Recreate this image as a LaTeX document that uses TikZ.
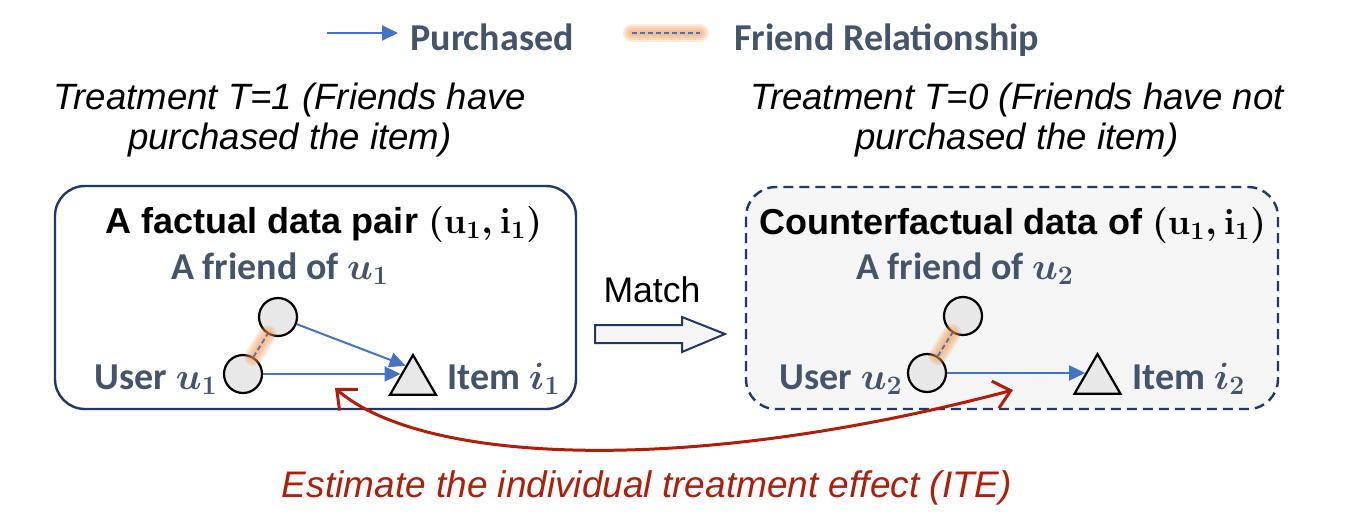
\RequirePackage{fix-cm}
\documentclass[tikz,border=0pt]{standalone}
\usepackage{fontspec}
\usepackage{amsmath}
\usepackage{tikz}
\usetikzlibrary{arrows.meta,shapes.geometric,calc}
\newfontfamily\arialfont{Liberation Sans}
\newfontfamily\calibrifont{Carlito}
\definecolor{slate}{HTML}{44546A}
\definecolor{buy}{HTML}{4472C4}
\definecolor{navy}{HTML}{1F3864}
\definecolor{iteRed}{HTML}{B01E0A}
\definecolor{glow}{HTML}{F79646}
\definecolor{nodeGray}{HTML}{E8E8E8}
\definecolor{boxGray}{HTML}{F5F5F5}

\begin{document}
\begin{tikzpicture}[x=0.5pt,y=-0.5pt,
    lab/.style={font=\calibrifont\bfseries\fontsize{19}{22}\selectfont,text=slate,inner sep=0pt},
    ttl/.style={font=\arialfont\bfseries\fontsize{18}{21}\selectfont,inner sep=0pt},
    treat/.style={font=\arialfont\itshape\fontsize{18.3}{20}\selectfont,align=center,inner sep=0pt},
    usr/.style={circle,draw=black,line width=1.1pt,fill=nodeGray,minimum size=19pt,inner sep=0pt},
    itm/.style={regular polygon,regular polygon sides=3,draw=black,line width=1.1pt,fill=nodeGray,minimum size=26.5pt,inner sep=0pt},
    buyarrow/.style={buy,line width=1pt,-{Triangle[length=8pt,width=7.5pt]}},
    friend/.style={buy,line width=0.9pt,dash pattern=on 2.5pt off 1.5pt},
    halo/.style={glow,line cap=round,line width=#1,opacity=0.2},
]
    \path[fill=white,use as bounding box] (0,0) rectangle (1350,525);

    % legend
    \coordinate (lgbuyS) at (327,33);
    \coordinate (lgbuyE) at (398,33);
    \draw[buyarrow] (lgbuyS) -- (lgbuyE);
    \node[lab,anchor=base west] (lgbuy) at (410,50) {Purchased};
    \coordinate (lgfrS) at (632,33);
    \coordinate (lgfrE) at (700,33);
    \foreach \w in {9pt,7pt,5pt,3pt} \draw[halo=\w] (lgfrS) -- (lgfrE);
    \draw[friend] (lgfrS) -- (lgfrE);
    \node[lab,anchor=base west] (lgfr) at (734,50) {Friend Relationship};

    % treatment captions
    \node[treat] (trt1) at (290,120) {Treatment T=1 (Friends have\\purchased the item)};
    \node[treat] (trt0) at (1017,120) {Treatment T=0 (Friends have not\\purchased the item)};

    % the two boxes
    \draw[navy,line width=1.2pt,rounded corners=15pt] (55,186) rectangle (576,409);
    \draw[navy,line width=1.2pt,dash pattern=on 5pt off 3pt,fill=boxGray,rounded corners=15pt] (746,187) rectangle (1278,409);
    \node[ttl,anchor=base] (fact) at (324,233) {A factual data pair {\boldmath$(\mathbf{u}_1,\mathbf{i}_1)$}};
    \node[ttl,anchor=base] (cfact) at (1013,234) {Counterfactual data of {\boldmath$(\mathbf{u}_1,\mathbf{i}_1)$}};

    % factual pair
    \node[usr] (f1) at (278,317) {};
    \node[usr] (u1) at (243,374) {};
    \node[itm] (t1) at (413,381.5) {};
    \node[lab,anchor=base] (f1lab) at (280,279) {A friend of {\boldmath$u_1$}};
    \node[lab,anchor=base east] (u1lab) at (218,389) {User {\boldmath$u_1$}};
    \node[lab,anchor=base west] (t1lab) at (447,389) {Item {\boldmath$i_1$}};
    \coordinate (t1up) at ($(t1.corner 1)!0.3!(t1.corner 2)$);
    \coordinate (t1w) at ($(t1.corner 1)!0.5!(t1.corner 2)$);
    \draw[buyarrow] (f1) -- (t1up);
    \draw[buyarrow] (u1.east) -- (u1.east -| t1w);
    \foreach \w in {9pt,7pt,5pt,3pt} \draw[halo=\w] (u1) -- (f1);
    \draw[friend] (u1) -- (f1);

    % counterfactual pair
    \node[usr] (f2) at (963,316) {};
    \node[usr] (u2) at (927,373) {};
    \node[itm] (t2) at (1097.5,380.5) {};
    \node[lab,anchor=base] (f2lab) at (965,279) {A friend of {\boldmath$u_2$}};
    \node[lab,anchor=base east] (u2lab) at (903,389) {User {\boldmath$u_2$}};
    \node[lab,anchor=base west] (t2lab) at (1132,389) {Item {\boldmath$i_2$}};
    \coordinate (t2w) at ($(t2.corner 1)!0.5!(t2.corner 2)$);
    \draw[buyarrow] (u2.east) -- (u2.east -| t2w);
    \foreach \w in {9pt,7pt,5pt,3pt} \draw[halo=\w] (u2) -- (f2);
    \draw[friend] (u2) -- (f2);

    % match arrow
    \node[font=\arialfont\fontsize{17.8}{20}\selectfont,anchor=base,inner sep=0pt] (match) at (652,302) {Match};
    \draw[navy,line width=1pt,fill=boxGray] (595,325) -- (682,325) -- (682,317) -- (725,334) -- (682,352) -- (682,343) -- (595,343) -- cycle;

    % ITE
    \coordinate (iteL) at (335,388);
    \coordinate (iteR) at (1013,390);
    \draw[iteRed,line width=1.5pt,{Straight Barb[length=8pt,width=14pt]}-{Straight Barb[length=8pt,width=14pt]}] (iteL) .. controls (420,462) and (680,478) .. (iteR);
    \node[font=\arialfont\itshape\fontsize{18.5}{21}\selectfont,text=iteRed,anchor=base,inner sep=0pt] (ite) at (647,497) {Estimate the individual treatment effect (ITE)};

\end{tikzpicture}
\end{document}
